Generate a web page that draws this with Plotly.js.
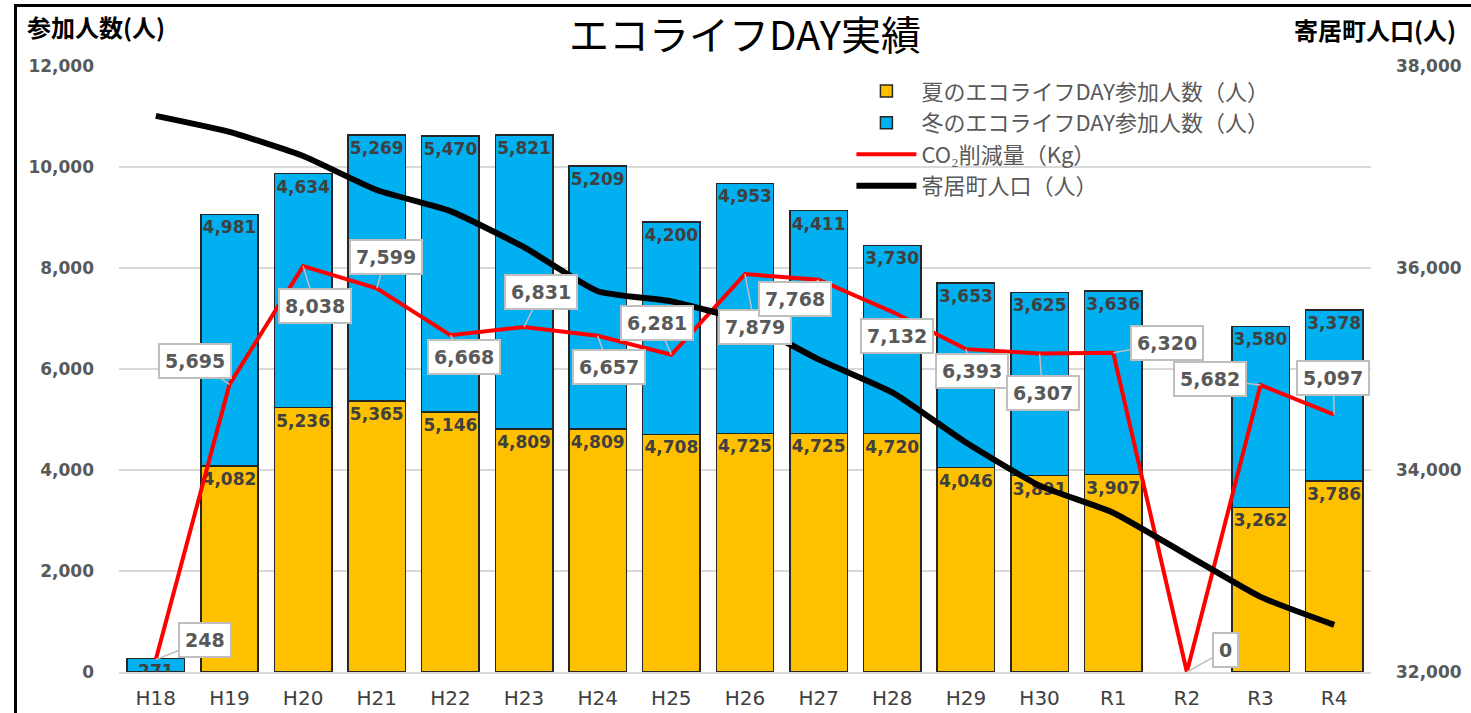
<!DOCTYPE html>
<html>
<head>
<meta charset="utf-8">
<script src="https://cdn.plot.ly/plotly-3.0.1.min.js"></script>
<style>
  html, body { margin: 0; padding: 0; background: #fff; }
  #chart { position: absolute; left: 0; top: 0; width: 1471px; height: 713px; }
  #frame { position: absolute; left: 14px; top: 4px; width: 1500px; height: 800px;
           border-left: 3px solid #000; border-top: 3px solid #000; pointer-events: none; }
</style>
</head>
<body>
<div id="chart"></div>
<div id="frame"></div>
<script>
// ---- data ----
const years = ["H18","H19","H20","H21","H22","H23","H24","H25","H26","H27","H28","H29","H30","R1","R2","R3","R4"];
const summerParticipants = [0, 4082, 5236, 5365, 5146, 4809, 4809, 4708, 4725, 4725, 4720, 4046, 3891, 3907, 0, 3262, 3786];
const winterParticipants = [271, 4981, 4634, 5269, 5470, 5821, 5209, 4200, 4953, 4411, 3730, 3653, 3625, 3636, 0, 3580, 3378];
const co2Reduction = [248, 5695, 8038, 7599, 6668, 6831, 6657, 6281, 7879, 7768, 7132, 6393, 6307, 6320, 0, 5682, 5097];
const population = [37506, 37347, 37109, 36772, 36563, 36206, 35770, 35670, 35472, 35095, 34768, 34272, 33845, 33577, 33160, 32744, 32466];

const seriesNames = ["夏のエコライフDAY参加人数（人）", "冬のエコライフDAY参加人数（人）", "CO₂削減量（Kg）", "寄居町人口（人）"];
const chartTitle = "エコライフDAY実績";
const leftAxisTitle = "参加人数(人)";
const rightAxisTitle = "寄居町人口(人)";

// callout offsets (pixels) for the CO2 labels
const calloutOffsets = [[49,-19],[-34,-23],[12,40],[9,-31],[14,22],[17,-35],[11,31],[-14,-32],[10,53],[-24,19],[5,24],[6,22],[3,39],[54,-10],[39,-22],[-51,-6],[-1,-37]];

const fmt = v => v.toLocaleString('en-US');
const barText = arr => arr.map(v => v > 0 ? fmt(v) : '');
const nonZero = arr => arr.map(v => v > 0 ? v : null);

const barFont = {family: "DejaVu Sans", size: 17, color: "#404040", weight: "bold"};

const traces = [
  {
    type: 'bar', name: seriesNames[0], x: years, y: nonZero(summerParticipants),
    marker: {color: '#FFC000', line: {color: '#262626', width: 1.5}},
    text: barText(summerParticipants), textposition: 'inside', insidetextanchor: 'end',
    textangle: 0, constraintext: 'none', textfont: barFont, hoverinfo: 'skip'
  },
  {
    type: 'bar', name: seriesNames[1], x: years, y: nonZero(winterParticipants),
    marker: {color: '#00B0F0', line: {color: '#262626', width: 1.5}},
    text: barText(winterParticipants), textposition: 'inside', insidetextanchor: 'end',
    textangle: 0, constraintext: 'none', textfont: barFont, hoverinfo: 'skip'
  },
  {
    type: 'scatter', mode: 'lines', name: seriesNames[2], x: years, y: co2Reduction,
    line: {color: '#FF0000', width: 4}, hoverinfo: 'skip'
  },
  {
    type: 'scatter', mode: 'lines', name: seriesNames[3], x: years, y: population, yaxis: 'y2',
    line: {color: '#000000', width: 6, shape: 'spline', smoothing: 0.5}, hoverinfo: 'skip'
  }
];

const annotations = co2Reduction.map((v, i) => ({
  x: years[i], y: v, xref: 'x', yref: 'y',
  text: fmt(v), showarrow: true, arrowhead: 0, arrowwidth: 1.5, arrowcolor: '#BFBFBF',
  ax: calloutOffsets[i][0], ay: calloutOffsets[i][1], standoff: 0,
  bgcolor: '#FFFFFF', bordercolor: '#BFBFBF', borderwidth: 2, borderpad: 5,
  font: {family: "DejaVu Sans", size: 19, color: '#595959', weight: 'bold'}
}));

annotations.push({
  text: leftAxisTitle, xref: 'paper', yref: 'paper', x: -0.0751, y: 1.0645,
  xanchor: 'left', yanchor: 'middle', showarrow: false,
  font: {family: "Noto Sans CJK JP", size: 24, color: '#000000', weight: 'bold'}
});
annotations.push({
  text: rightAxisTitle, xref: 'paper', yref: 'paper', x: 1.0695, y: 1.061,
  xanchor: 'right', yanchor: 'middle', showarrow: false,
  font: {family: "Noto Sans CJK JP", size: 24, color: '#000000', weight: 'bold'}
});

const tickFont = {family: "DejaVu Sans", size: 17, color: '#595959', weight: 'bold'};

const layout = {
  width: 1471, height: 713,
  margin: {l: 119, r: 100, t: 66, b: 41},
  paper_bgcolor: '#FFFFFF', plot_bgcolor: '#FFFFFF',
  barmode: 'stack', bargap: 0.22,
  showlegend: true,
  title: {text: chartTitle, x: 0.5, xref: 'paper', xanchor: 'center', y: 0.95, yanchor: 'middle',
          font: {family: "Noto Sans CJK JP", size: 40, color: '#000000'}},
  xaxis: {
    type: 'category', showgrid: false, showline: true, linecolor: '#D9D9D9', linewidth: 1.5,
    ticks: '', ticklabelstandoff: 7,
    tickfont: {family: "DejaVu Sans", size: 20, color: '#404040'}
  },
  yaxis: {
    range: [0, 12000], dtick: 2000, tickformat: ',d', showgrid: true, gridcolor: '#D9D9D9', gridwidth: 1.5,
    zeroline: false, showline: false, ticks: '', ticklabelstandoff: 24, tickfont: tickFont
  },
  yaxis2: {
    overlaying: 'y', side: 'right', range: [32000, 38000], dtick: 2000, tickformat: ',d',
    showgrid: false, zeroline: false, showline: false, ticks: '', ticklabelstandoff: 24, tickfont: tickFont
  },
  legend: {
    x: 0.585, y: 0.993, xanchor: 'left', yanchor: 'top', traceorder: 'normal',
    bgcolor: 'rgba(0,0,0,0)', borderwidth: 0, itemwidth: 60,
    font: {family: "Noto Sans CJK JP", size: 22, color: '#595959'}
  },
  annotations: annotations
};

Plotly.newPlot('chart', traces, layout, {staticPlot: true, displayModeBar: false});
</script>
</body>
</html>
